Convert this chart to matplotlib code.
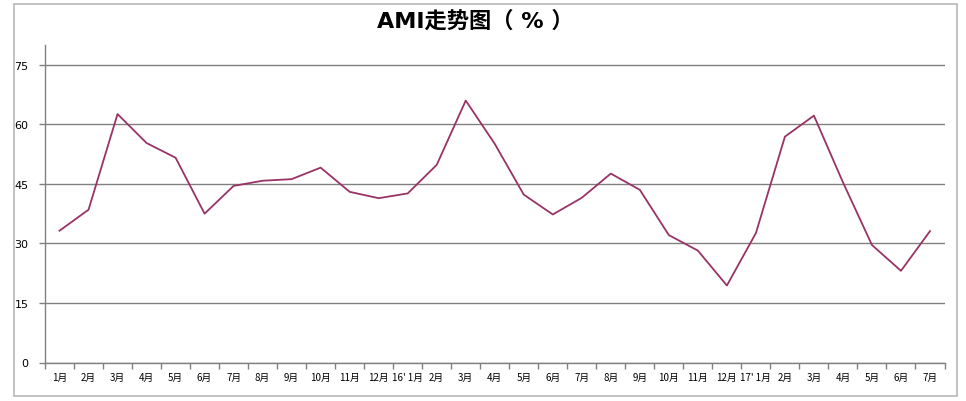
import matplotlib
matplotlib.use('Agg')
import matplotlib.pyplot as plt
from matplotlib.patches import Rectangle
import numpy as np

plt.rcParams['font.family'] = ['Noto Sans CJK SC', 'DejaVu Sans']

# months: 2015 Jan - 2017 Jul
months = ['1月', '2月', '3月', '4月', '5月', '6月', '7月', '8月', '9月', '10月', '11月', '12月',
          "16' 1月", '2月', '3月', '4月', '5月', '6月', '7月', '8月', '9月', '10月', '11月', '12月',
          "17' 1月", '2月', '3月', '4月', '5月', '6月', '7月']
ami = [33.2, 38.5, 62.6, 55.3, 51.6, 37.5, 44.5, 45.8, 46.2, 49.1, 43.0, 41.4,
       42.6, 49.8, 66.0, 55.1, 42.3, 37.3, 41.5, 47.6, 43.5, 32.1, 28.2, 19.4,
       32.6, 56.9, 62.2, 45.4, 29.6, 23.1, 33.1]
y_ticks = [0, 15, 30, 45, 60, 75]

fig = plt.figure(figsize=(9.66, 4.02), dpi=100)
fig.patches.append(Rectangle((14 / 966, 1 - 397 / 402), 943 / 966, 392 / 402,
                             transform=fig.transFigure, fill=False,
                             edgecolor='#b8b8b8', linewidth=1.2))

ax = fig.add_axes([45 / 966, 1 - 363.5 / 402, 899.5 / 966, 317.5 / 402])
x = np.arange(len(ami))
ax.plot(x, ami, color='#993366', linewidth=1.3, zorder=3)

ax.set_xlim(-0.5, len(ami) - 0.5)
ax.set_ylim(0, 80)
ax.set_yticks(y_ticks)
ax.set_yticklabels([str(v) for v in y_ticks], fontsize=8, family='DejaVu Sans')
ax.yaxis.grid(True, color='#808080', linewidth=1)
ax.set_axisbelow(True)

ax.set_xticks(x)
ax.set_xticklabels(months, fontsize=7)
ax.set_xticks(np.arange(-0.5, len(ami)), minor=True)
ax.tick_params(axis='x', which='major', length=0, pad=7)
ax.tick_params(axis='x', which='minor', length=4, color='#808080', width=1)
ax.tick_params(axis='y', length=4, color='#808080', width=1, pad=8)

for s in ['top', 'right']:
    ax.spines[s].set_visible(False)
for s in ['left', 'bottom']:
    ax.spines[s].set_color('#808080')
    ax.spines[s].set_linewidth(1)

fig.text(0.492, 1 - 21 / 402, 'AMI走势图（ % ）', ha='center', va='center',
         fontsize=16, fontweight='bold', family=['DejaVu Sans', 'Noto Sans CJK SC'])

fig.savefig('out.png', dpi=100)
